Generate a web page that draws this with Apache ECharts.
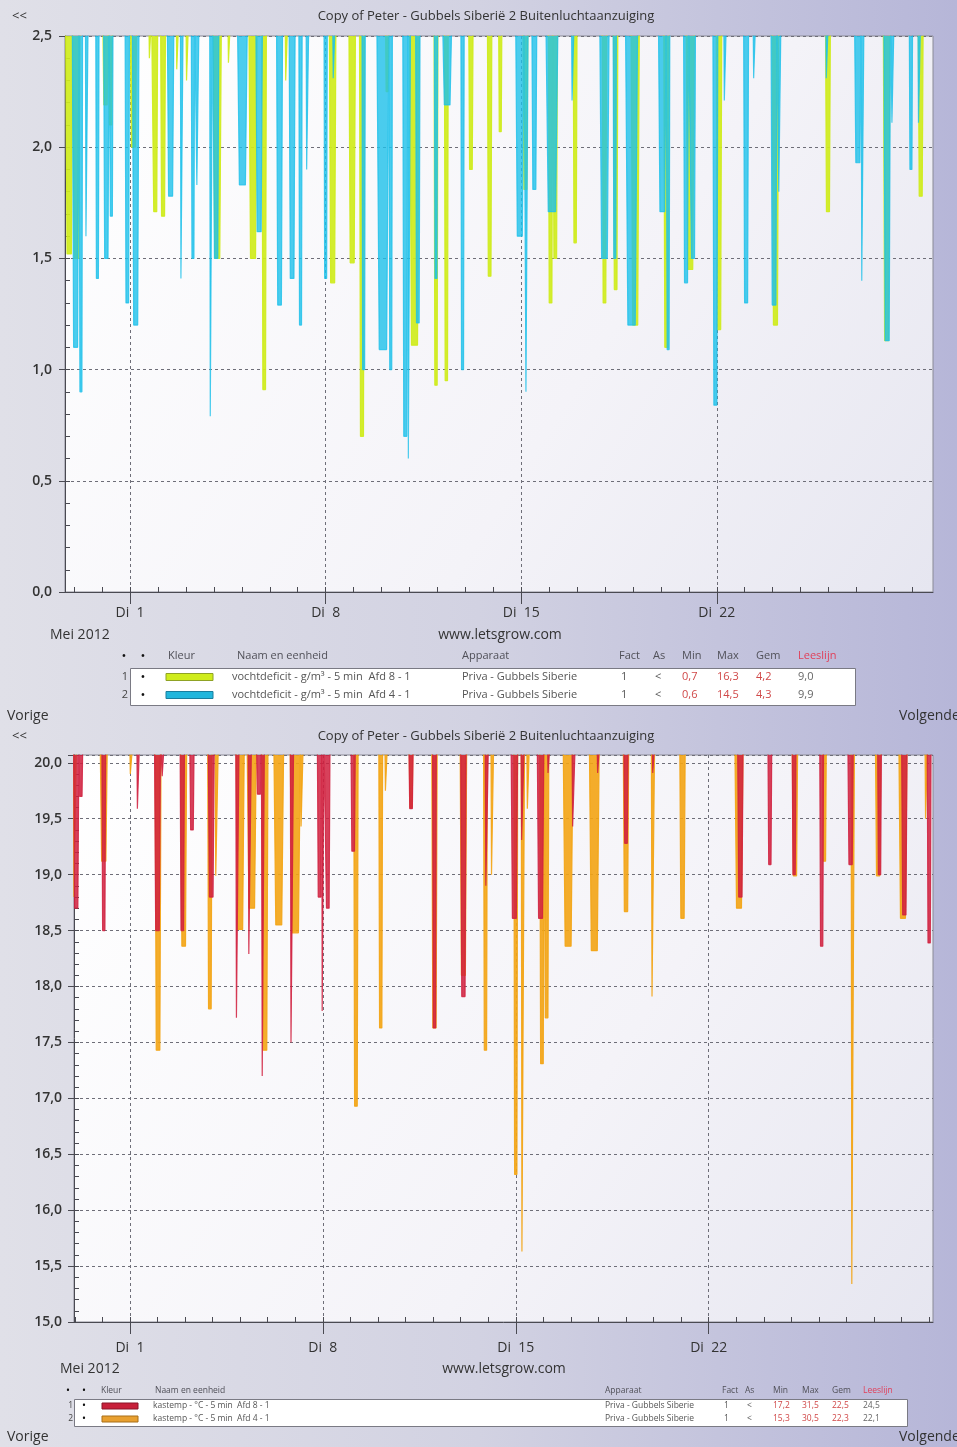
<!DOCTYPE html>
<html>
<head>
<meta charset="utf-8">
<script src="https://cdn.jsdelivr.net/npm/echarts@6/dist/echarts.min.js"></script>
<style>
  html, body { margin: 0; padding: 0; }
  #chart { width: 957px; height: 1447px; }
</style>
</head>
<body>
<div id="chart"></div>
<script>
// ---- Data -------------------------------------------------------------
const chartTitle = 'Copy of Peter - Gubbels Siberië 2 Buitenluchtaanzuiging';
const monthLabel = 'Mei 2012';
const siteLabel = 'www.letsgrow.com';

// x unit: days, 1 = Tuesday 1 May 2012 00:00
const weekTicks = [1, 8, 15, 22];
const dayTicks = [-1, 0, 1, 2, 3, 4, 5, 6, 7, 8, 9, 10, 11, 12, 13, 14, 15,
  16, 17, 18, 19, 20, 21, 22, 23, 24, 25, 26, 27, 28, 29, 30];

const deficitRange = [-1.33, 29.74];
const tempRange = [-1.03, 30.14];

// Night-time dips below the visible ceiling: [day, lowest value, half-width in days]
// vochtdeficit g/m³, Afd 8
const deficitAfd8 = [
  [-1.18, 1.52, 0.13], [-0.92, 1.50, 0.13], [0.12, 2.19, 0.10], [0.30, 2.10, 0.07],
  [1.12, 2.00, 0.12], [1.72, 2.40, 0.05], [1.90, 1.71, 0.09], [2.18, 1.69, 0.09],
  [2.70, 2.35, 0.05], [3.05, 2.30, 0.05], [4.12, 1.50, 0.15], [4.55, 2.38, 0.05],
  [5.40, 1.50, 0.15], [5.80, 0.91, 0.08], [6.60, 2.30, 0.05], [8.25, 1.39, 0.12],
  [8.95, 1.48, 0.12], [9.30, 0.70, 0.09], [10.20, 2.25, 0.06], [11.18, 1.11, 0.18],
  [11.95, 0.93, 0.07], [12.32, 0.95, 0.07], [13.20, 1.90, 0.08], [13.87, 1.42, 0.08],
  [14.25, 2.07, 0.06], [15.15, 1.81, 0.09], [16.05, 1.30, 0.08], [16.22, 1.50, 0.08],
  [16.93, 1.57, 0.07], [17.98, 1.30, 0.08], [18.38, 1.36, 0.08], [19.08, 1.20, 0.15],
  [20.20, 1.10, 0.10], [21.05, 1.45, 0.15], [22.08, 1.18, 0.10], [24.10, 1.20, 0.12],
  [25.98, 1.71, 0.09], [28.08, 1.13, 0.12], [29.30, 1.78, 0.09]
];
// vochtdeficit g/m³, Afd 4
const deficitAfd4 = [
  [-0.95, 1.10, 0.12], [-0.76, 0.90, 0.06], [-0.55, 1.60, 0.05], [-0.17, 1.41, 0.06],
  [0.15, 1.50, 0.10], [0.33, 1.69, 0.06], [0.90, 1.30, 0.08], [1.20, 1.20, 0.12],
  [2.45, 1.78, 0.12], [2.85, 1.41, 0.05], [3.25, 1.50, 0.06], [3.42, 1.83, 0.05],
  [3.90, 0.79, 0.05], [4.08, 1.50, 0.10], [5.02, 1.83, 0.18], [5.62, 1.62, 0.12],
  [6.35, 1.29, 0.11], [6.80, 1.41, 0.11], [7.10, 1.20, 0.06], [7.35, 1.90, 0.05],
  [8.00, 1.41, 0.06], [8.30, 2.31, 0.05], [9.36, 1.00, 0.06], [10.05, 1.09, 0.22],
  [10.33, 1.00, 0.06], [10.85, 0.70, 0.09], [10.99, 0.60, 0.05], [11.30, 1.21, 0.08],
  [11.95, 1.41, 0.06], [12.35, 2.19, 0.17], [12.90, 1.00, 0.06], [14.95, 1.60, 0.15],
  [15.20, 0.90, 0.05], [15.47, 1.81, 0.09], [16.10, 1.71, 0.22], [16.85, 2.21, 0.05],
  [17.98, 1.50, 0.17], [18.35, 1.50, 0.06], [18.95, 1.20, 0.22], [20.05, 1.71, 0.14],
  [20.26, 1.09, 0.06], [20.90, 1.39, 0.09], [21.15, 1.50, 0.09], [21.95, 0.84, 0.09],
  [22.30, 2.21, 0.05], [23.05, 1.30, 0.09], [23.35, 2.31, 0.05], [24.05, 1.29, 0.11],
  [24.25, 1.80, 0.05], [25.95, 2.31, 0.05], [27.05, 1.93, 0.12], [27.22, 1.40, 0.05],
  [28.10, 1.13, 0.12], [28.30, 2.11, 0.05], [28.95, 1.90, 0.06], [29.25, 2.11, 0.05]
];
// kastemp °C, Afd 8
const tempAfd8 = [
  [-0.95, 18.70, 0.10], [-0.78, 19.70, 0.07], [0.05, 18.50, 0.07], [1.30, 19.59, 0.05],
  [2.00, 18.50, 0.11], [2.20, 19.88, 0.05], [2.90, 18.50, 0.08], [3.25, 19.40, 0.08],
  [3.95, 18.80, 0.11], [4.90, 17.72, 0.06], [5.35, 18.29, 0.06], [5.68, 19.72, 0.09],
  [5.83, 17.20, 0.05], [6.88, 17.50, 0.06], [7.88, 18.80, 0.08], [8.00, 17.78, 0.04],
  [8.18, 18.70, 0.08], [9.10, 19.21, 0.08], [11.20, 19.59, 0.08], [12.05, 17.63, 0.07],
  [13.10, 17.91, 0.10], [13.95, 18.90, 0.06], [14.95, 18.61, 0.12], [15.25, 19.31, 0.06],
  [15.90, 18.61, 0.12], [16.20, 19.91, 0.05], [17.10, 19.43, 0.06], [18.00, 19.91, 0.05],
  [19.00, 19.28, 0.08], [20.00, 19.91, 0.05], [23.15, 18.80, 0.10], [24.22, 19.09, 0.07],
  [25.10, 19.00, 0.07], [26.10, 18.36, 0.07], [27.15, 19.09, 0.10], [28.20, 19.00, 0.07],
  [29.10, 18.64, 0.10], [30.00, 18.39, 0.07]
];
// kastemp °C, Afd 4
const tempAfd4 = [
  [-1.00, 18.80, 0.06], [0.05, 19.12, 0.13], [1.05, 19.90, 0.06], [2.02, 17.43, 0.11],
  [2.95, 18.36, 0.11], [3.90, 17.80, 0.08], [4.15, 18.99, 0.06], [5.00, 18.51, 0.15],
  [5.42, 18.70, 0.17], [5.90, 17.43, 0.11], [6.40, 18.55, 0.18], [7.00, 18.48, 0.19],
  [7.24, 19.43, 0.05], [9.20, 16.93, 0.08], [10.10, 17.63, 0.07], [10.30, 19.75, 0.05],
  [11.20, 19.60, 0.07], [12.05, 17.63, 0.10], [13.10, 18.10, 0.12], [13.90, 17.43, 0.07],
  [14.15, 19.00, 0.05], [15.00, 16.32, 0.07], [15.26, 15.63, 0.06], [15.45, 19.59, 0.05],
  [15.95, 17.31, 0.08], [16.12, 17.72, 0.08], [16.90, 18.36, 0.18], [17.85, 18.32, 0.18],
  [19.00, 18.67, 0.10], [19.98, 17.91, 0.06], [21.05, 18.61, 0.10], [23.10, 18.70, 0.15],
  [25.13, 18.99, 0.10], [26.20, 19.12, 0.07], [27.23, 15.34, 0.06], [28.15, 18.99, 0.10],
  [29.05, 18.61, 0.15], [29.90, 19.50, 0.05]
];

// readings between dips sit above the visible range
const deficitOffScale = 2.6;
const tempOffScale = 20.2;

// legend table contents
const legendHeader = ['Kleur', 'Naam en eenheid', 'Apparaat', 'Fact', 'As', 'Min', 'Max', 'Gem', 'Leeslijn'];
const deficitRows = [
  ['1', 'vochtdeficit - g/m³ - 5 min  Afd 8 - 1', 'Priva - Gubbels Siberie', '1', '<', '0,7', '16,3', '4,2', '9,0'],
  ['2', 'vochtdeficit - g/m³ - 5 min  Afd 4 - 1', 'Priva - Gubbels Siberie', '1', '<', '0,6', '14,5', '4,3', '9,9']
];
const tempRows = [
  ['1', 'kastemp - °C - 5 min  Afd 8 - 1', 'Priva - Gubbels Siberie', '1', '<', '17,2', '31,5', '22,5', '24,5'],
  ['2', 'kastemp - °C - 5 min  Afd 4 - 1', 'Priva - Gubbels Siberie', '1', '<', '15,3', '30,5', '22,3', '22,1']
];

// ---- Styling & helpers ------------------------------------------------
const FONT = '"Open Sans", "DejaVu Sans", sans-serif';
const COL = {
  lime: '#cfec1c', cyan: '#1ec0ea', red: '#d0203e', orange: '#f3a414',
  text: '#333333', grid: '#6e6e78', axis: '#4a4a52'
};

// each dip: off-scale -> bottom at the lowest reading -> off-scale
function buildTrace(dips, ceiling) {
  const pts = [];
  let prevEnd = -Infinity;
  dips.slice().sort((a, b) => a[0] - b[0]).forEach(([d, v, hw]) => {
    const start = Math.max(d - hw, prevEnd);
    const bottomL = Math.max(d - hw * 0.6, start);
    pts.push([start, ceiling], [bottomL, v], [d, v], [d + hw * 0.6, v], [d + hw, ceiling]);
    prevEnd = d + hw;
  });
  return pts;
}

const commaFmt = v => (Math.abs(v * 2 - Math.round(v * 2)) < 1e-6) ? v.toFixed(1).replace('.', ',') : '';

function xAxes(gridIndex, range, labelMargin) {
  return [
    {
      type: 'value', gridIndex, min: range[0], max: range[1], position: 'bottom',
      axisLine: { show: true, onZero: false, lineStyle: { color: COL.axis, width: 1 } },
      axisTick: { show: true, customValues: weekTicks, length: 12, lineStyle: { color: COL.axis } },
      axisLabel: { customValues: weekTicks, formatter: v => 'Di  ' + v, margin: labelMargin,
        fontSize: 14, color: COL.text, fontFamily: FONT },
      splitLine: { show: true, lineStyle: { color: COL.grid, type: [3, 3], width: 1 } }
    },
    {
      type: 'value', gridIndex, min: range[0], max: range[1], position: 'bottom',
      axisLine: { show: false, onZero: false },
      axisTick: { show: true, inside: true, length: 5,
        customValues: dayTicks.filter(d => d >= range[0] && d <= range[1]),
        lineStyle: { color: COL.axis } },
      axisLabel: { show: false },
      splitLine: { show: false }
    }
  ];
}

function yAxes(gridIndex, min, max, labelMargin) {
  return [
    {
      type: 'value', gridIndex, min, max, interval: 0.5, position: 'left',
      axisLine: { show: true, onZero: false, lineStyle: { color: COL.axis } },
      axisTick: { show: true, length: 6, lineStyle: { color: COL.axis } },
      axisLabel: { formatter: commaFmt, margin: labelMargin, fontSize: 14, fontWeight: 600,
        color: COL.text, fontFamily: FONT },
      splitLine: { show: true, lineStyle: { color: COL.grid, type: [3, 3], width: 1 } }
    },
    {
      type: 'value', gridIndex, min, max, interval: 0.1, position: 'left',
      axisLine: { show: false, onZero: false },
      axisTick: { show: true, inside: true, length: 5, lineStyle: { color: COL.axis } },
      axisLabel: { show: false },
      splitLine: { show: false }
    }
  ];
}

// filled band plus a thin outline so the narrowest dips stay visible
function trace(dips, ceiling, color, opacity, xi, yi, z) {
  const data = buildTrace(dips, ceiling);
  const common = {
    type: 'line', xAxisIndex: xi, yAxisIndex: yi, data,
    symbol: 'none', showSymbol: false, clip: true, z,
    itemStyle: { color }, emphasis: { disabled: true }, silent: true
  };
  return [
    Object.assign({}, common, {
      lineStyle: { color, width: 0, opacity: 0 },
      areaStyle: { origin: 'end', color, opacity }
    }),
    Object.assign({}, common, {
      lineStyle: { color, width: 1.2, opacity }
    })
  ];
}

function text(x, y, str, size, color, align, weight) {
  return {
    type: 'text', x, y, silent: true,
    style: { text: str, fill: color || COL.text, font: (weight || 'normal') + ' ' + size + 'px ' + FONT,
      align: align || 'left', verticalAlign: 'middle' }
  };
}

// legend table below each plot
function legendTable(L, rows, swatches) {
  const els = [];
  const fs = L.fontSize;
  const hdrColor = '#505058';
  els.push(text(L.hdrDots[0], L.headerY, '•', fs + 2, '#111', 'center'));
  els.push(text(L.hdrDots[1], L.headerY, '•', fs + 2, '#111', 'center'));
  legendHeader.forEach((h, i) => {
    els.push(text(L.cols[i], L.headerY, h, fs, i === 8 ? '#e0405a' : hdrColor));
  });
  els.push({
    type: 'rect', silent: true,
    shape: { x: L.box[0], y: L.box[1], width: L.box[2], height: L.box[3] },
    style: { fill: '#ffffff', stroke: '#7a7a84', lineWidth: 1 }
  });
  rows.forEach((r, k) => {
    const y = L.rowY[k];
    els.push(text(L.numX, y, r[0], fs, '#444', 'right'));
    els.push(text(L.hdrDots[1], y, '•', fs + 2, '#111', 'center'));
    els.push({
      type: 'rect', silent: true,
      shape: { x: L.swatch[0], y: y - L.swatch[2] / 2, width: L.swatch[1], height: L.swatch[2] },
      style: { fill: swatches[k][0], stroke: swatches[k][1], lineWidth: 1 }
    });
    els.push(text(L.cols[1] - (L.nameShift || 0), y, r[1], fs, '#555'));
    els.push(text(L.cols[2], y, r[2], fs, '#555'));
    els.push(text(L.cols[3] + 2, y, r[3], fs, '#555'));
    els.push(text(L.cols[4] + 2, y, r[4], fs, '#555'));
    els.push(text(L.cols[5], y, r[5], fs, '#d04848'));
    els.push(text(L.cols[6], y, r[6], fs, '#d04848'));
    els.push(text(L.cols[7], y, r[7], fs, '#d04848'));
    els.push(text(L.cols[8], y, r[8], fs, '#666'));
  });
  return els;
}

const topLegend = {
  fontSize: 11, headerY: 656, hdrDots: [124, 143], numX: 128,
  cols: [168, 237, 462, 619, 653, 682, 717, 756, 798], nameShift: 5,
  box: [130.5, 668.5, 725, 37], rowY: [677, 695], swatch: [166, 47, 7]
};
const bottomLegend = {
  fontSize: 8.5, headerY: 1391, hdrDots: [68, 84], numX: 73,
  cols: [101, 155, 605, 722, 745, 773, 802, 832, 863], nameShift: 2,
  box: [74.5, 1399.5, 833, 27], rowY: [1406, 1419], swatch: [102, 36, 6]
};

// ---- Chart ------------------------------------------------------------
const plotBg = {
  type: 'linear', x: 0, y: 0, x2: 1, y2: 1,
  colorStops: [{ offset: 0, color: '#ffffff' }, { offset: 0.6, color: '#f4f3f8' }, { offset: 1, color: '#e6e6f0' }]
};

const chart = echarts.init(document.getElementById('chart'), null, { renderer: 'canvas' });

const option = {
  animation: false,
  backgroundColor: {
    type: 'linear', x: 0, y: 0, x2: 1, y2: 0,
    colorStops: [{ offset: 0, color: '#e0e0e8' }, { offset: 0.5, color: '#d2d2e2' }, { offset: 1, color: '#b6b6d8' }]
  },
  grid: [
    { left: 65, top: 36, width: 868, height: 556, show: true, backgroundColor: plotBg,
      borderColor: '#8a8a96', borderWidth: 1, containLabel: false },
    { left: 74, top: 755, width: 859, height: 567, show: true, backgroundColor: plotBg,
      borderColor: '#8a8a96', borderWidth: 1, containLabel: false }
  ],
  xAxis: [
    ...xAxes(0, deficitRange, 14),
    ...xAxes(1, tempRange, 19)
  ],
  yAxis: [
    ...yAxes(0, 0, 2.5, 13),
    ...yAxes(1, 15, 20.07, 12)
  ],
  series: [
    ...trace(deficitAfd8, deficitOffScale, COL.lime, 0.92, 0, 0, 2),
    ...trace(deficitAfd4, deficitOffScale, COL.cyan, 0.8, 0, 0, 3),
    ...trace(tempAfd4, tempOffScale, COL.orange, 0.9, 2, 2, 2),
    ...trace(tempAfd8, tempOffScale, COL.red, 0.85, 2, 2, 3)
  ],
  graphic: [
    // upper panel
    text(12, 16, '<<', 13, '#333'),
    text(486, 16, chartTitle, 13, '#333', 'center'),
    text(50, 635, monthLabel, 14, '#333'),
    text(500, 635, siteLabel, 14, '#333', 'center'),
    ...legendTable(topLegend, deficitRows, [[COL.lime, '#8fa224'], ['#22b6dc', '#1a7e9e']]),
    text(7, 716, 'Vorige', 14, '#333'),
    text(899, 716, 'Volgende', 14, '#333'),
    // lower panel
    text(12, 736, '<<', 13, '#333'),
    text(486, 736, chartTitle, 13, '#333', 'center'),
    text(60, 1369, monthLabel, 14, '#333'),
    text(504, 1369, siteLabel, 14, '#333', 'center'),
    ...legendTable(bottomLegend, tempRows, [['#c8203a', '#8a1428'], ['#e8a030', '#a86e18']]),
    text(7, 1437, 'Vorige', 14, '#333'),
    text(899, 1437, 'Volgende', 14, '#333')
  ]
};

chart.setOption(option);
</script>
</body>
</html>
